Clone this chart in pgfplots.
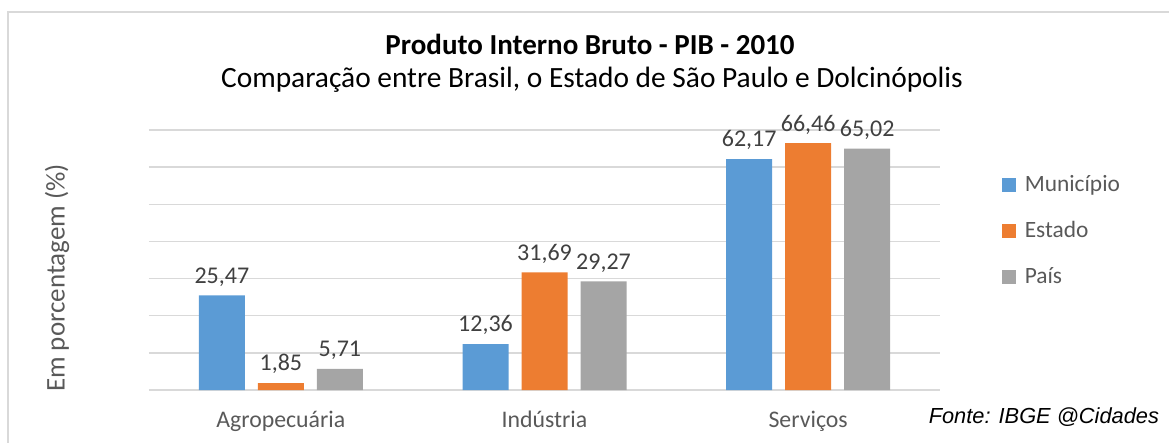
\documentclass[border=0pt]{standalone}
\usepackage{pgfplots}
\pgfplotsset{compat=1.18}
\usepackage{fontspec}
\setmainfont{Carlito}
\newfontfamily\arialfont{Liberation Sans}

\definecolor{cblue}{HTML}{5B9BD5}
\definecolor{corange}{HTML}{ED7D31}
\definecolor{cgray}{HTML}{A5A5A5}
\definecolor{gridc}{HTML}{D9D9D9}
\definecolor{labc}{HTML}{404040}
\definecolor{axc}{HTML}{595959}

\begin{document}
\begin{tikzpicture}
\begin{scope}[x=0.5pt,y=-0.5pt]
\useasboundingbox (0,0) rectangle (1169,443);
\draw[gridc, line width=0.8pt] (8,460) -- (8,12) -- (1180,12);
\node[font=\bfseries\fontsize{14.5}{16}\selectfont] at (590,44) {Produto Interno Bruto - PIB - 2010};
\node[font=\fontsize{14.7}{16}\selectfont] at (592,80) {Comparação entre Brasil, o Estado de São Paulo e Dolcinópolis};
\node[font=\fontsize{13.5}{15}\selectfont, text=axc, rotate=90] at (57,278) {Em porcentagem (\%)};
\node[font=\arialfont\itshape\fontsize{10.9}{12}\selectfont, anchor=east] at (1166,417) {Fonte: IBGE @Cidades};
\end{scope}

\begin{axis}[
    at={(74.5pt,-195pt)}, anchor=south west,
    scale only axis, width=395.5pt, height=130pt,
    xmin=-0.5, xmax=2.5, ymin=0, ymax=70,
    ytick={0,10,...,70}, yticklabels={},
    xtick={0,1,2}, xticklabels={Agropecuária, Indústria, Serviços},
    xticklabel style={font=\fontsize{11.9}{13}\selectfont, text=axc, yshift=-7pt},
    major tick length=0pt,
    axis line style={draw=none},
    ymajorgrids, grid style={gridc, line width=0.7pt},
    ybar, bar width=23pt,
    nodes near coords,
    nodes near coords style={font=\fontsize{12}{13}\selectfont, text=labc, yshift=1pt,
      /pgf/number format/.cd, use comma, fixed, fixed zerofill, precision=2, assume math mode=true},
    legend style={at={(1.07,0.6115)}, anchor=west, draw=none, fill=none,
      font=\fontsize{11.7}{13}\selectfont, text=axc, row sep=9.5pt},
    legend cell align=left,
    legend image code/.code={\fill[#1] (0pt,-3.5pt) rectangle (7pt,3.5pt); \path (9.5pt,0pt);},
]
\addplot[fill=cblue, draw=none, bar shift=-29.5pt] coordinates {(0,25.47) (1,12.36) (2,62.17)};
\addlegendentry{Município}
\addplot[fill=corange, draw=none, bar shift=0pt] coordinates {(0,1.85) (1,31.69) (2,66.46)};
\addlegendentry{Estado}
\addplot[fill=cgray, draw=none, bar shift=29.5pt] coordinates {(0,5.71) (1,29.27) (2,65.02)};
\addlegendentry{País}
\end{axis}
\end{tikzpicture}
\end{document}
